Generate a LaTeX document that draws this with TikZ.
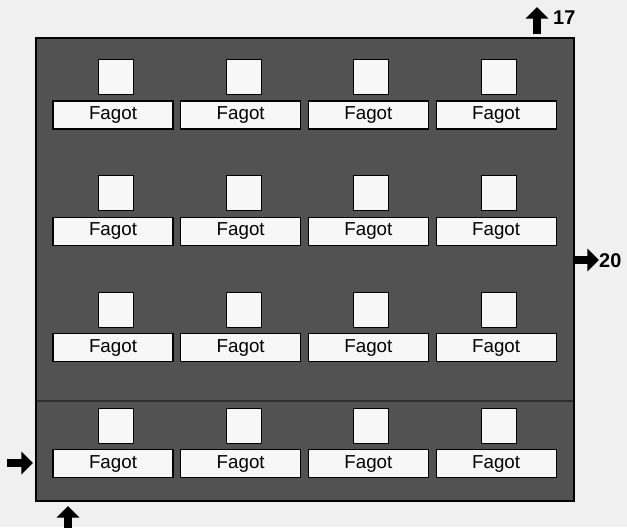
\documentclass[tikz,border=0pt]{standalone}
\usepackage{fontspec}
\setmainfont{Liberation Sans}
\usetikzlibrary{arrows.meta,positioning}

\begin{document}
\begin{tikzpicture}[
    x=0.03cm, y=-0.03cm,
    hall/.style={draw=black, line width=2pt, fill=black!68},
    vent/.style={rectangle, draw=black, line width=0.9pt, fill=black!3, minimum width=1.05cm, minimum height=1.05cm, inner sep=0pt},
    fagot/.style={rectangle, draw=black, line width=0.9pt, fill=black!3, minimum width=3.6cm, minimum height=0.84cm, inner sep=0pt, font=\fontsize{16}{18}\selectfont},
    marker/.style={line width=6.5pt, -{Triangle[width=19pt,length=10pt]}},
    num/.style={font=\fontsize{17}{19}\selectfont\bfseries, inner sep=0pt}
]
    % page
    \fill[black!6] (0,0) rectangle (627,527);
    \useasboundingbox (0,0) rectangle (627,527);

    % the hall
    \draw[hall] (36,38) rectangle (574,501);
    \draw[black!82, line width=2.5pt] (37,401) -- (573,401);

    % fagots with their openings
    \foreach \i in {0,...,3} {
        \foreach \j in {0,...,3} {
            \node[fagot] (f\i\j) at ({113+127.7*\i}, {115+116.3*\j}) {Fagot};
            \node[vent] (v\i\j) at ({116+127.7*\i}, {77+116.3*\j}) {};
        }
    }

    % markers
    \coordinate (t17) at (537,34);
    \coordinate (h17) at (537,7);
    \node[num, anchor=west] (n17) at (553,18) {17};
    \draw[marker] (t17) -- (h17);

    \coordinate (t20) at (575,260);
    \coordinate (h20) at (599,260);
    \node[num, anchor=west] (n20) at (599,261) {20};
    \draw[marker] (t20) -- (h20);

    \coordinate (tin) at (7,463);
    \coordinate (hin) at (33,463);
    \draw[marker] (tin) -- (hin);

    \coordinate (tbot) at (68,528);
    \coordinate (hbot) at (68,506);
    \draw[marker] (tbot) -- (hbot);
\end{tikzpicture}
\end{document}
